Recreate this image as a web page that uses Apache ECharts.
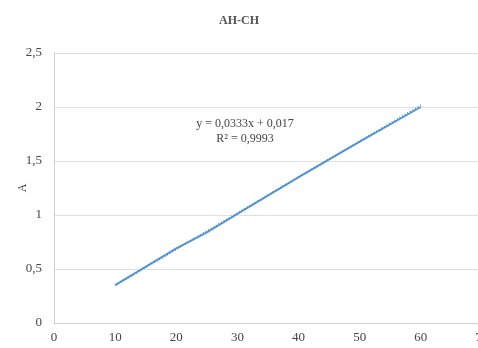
<!DOCTYPE html>
<html>
<head>
<meta charset="utf-8">
<script src="https://cdn.jsdelivr.net/npm/echarts@6/dist/echarts.min.js"></script>
<style>
  html, body { margin: 0; padding: 0; background: #fff; }
  #chart { width: 478px; height: 348px; }
</style>
</head>
<body>
<div id="chart"></div>
<script>
// Calibration data: concentration vs absorbance
const concentrations = [10, 20, 25, 30, 40, 50, 60];
const absorbance = [0.35, 0.69, 0.84, 1.01, 1.35, 1.68, 2.0];

// Linear fit as reported on the chart
const slope = 0.0333;
const intercept = 0.017;
const rSquared = '0,9993';

const xTicks = [0, 10, 20, 30, 40, 50, 60, 70];
const yTicks = [0, 0.5, 1, 1.5, 2, 2.5];

const fitX = [10, 60];
const fitLine = fitX.map(x => [x, slope * x + intercept]);
const measured = concentrations.map((c, i) => [c, absorbance[i]]);

const fmt = v => String(v).replace('.', ',');
const serif = '"Liberation Serif", "DejaVu Serif", serif';

const chart = echarts.init(document.getElementById('chart'));
chart.setOption({
  animation: false,
  title: {
    text: 'AH-CH',
    left: 'center',
    top: 10,
    textStyle: { fontFamily: serif, fontSize: 12, fontWeight: 'bold', color: '#555' }
  },
  grid: { left: 54, right: -4, top: 53, bottom: 25, outerBoundsMode: 'none', containLabel: false },
  xAxis: {
    type: 'value',
    min: 0, max: 70, interval: 10,
    axisLine: { show: true, lineStyle: { color: '#d0d0d0' } },
    axisTick: { show: false },
    splitLine: { show: false },
    axisLabel: { fontFamily: serif, fontSize: 13, color: '#444', margin: 8,
      formatter: v => xTicks.includes(v) ? fmt(v) : '' }
  },
  yAxis: {
    type: 'value',
    min: 0, max: 2.5, interval: 0.5,
    name: 'A',
    nameLocation: 'middle',
    nameGap: 25,
    nameMoveOverlap: false,
    nameRotate: 90,
    nameTextStyle: { fontFamily: serif, fontSize: 12, color: '#444' },
    axisLine: { show: true, lineStyle: { color: '#d0d0d0' } },
    axisTick: { show: false },
    splitLine: { lineStyle: { color: '#e0e0e0', width: 1 } },
    axisLabel: { fontFamily: serif, fontSize: 13, color: '#444', margin: 12,
      formatter: v => yTicks.includes(v) ? fmt(v) : '' }
  },
  graphic: [{
    type: 'text',
    x: 245,
    y: 116,
    style: {
      text: 'y = ' + fmt(slope) + 'x + ' + fmt(intercept) + '\nR² = ' + rSquared,
      font: '12px ' + serif,
      fill: '#444',
      align: 'center',
      lineHeight: 15
    }
  }],
  series: [
    {
      type: 'line',
      data: measured,
      showSymbol: false,
      lineStyle: { color: '#5b9bd5', width: 2 }
    },
    {
      type: 'line',
      data: fitLine,
      showSymbol: false,
      lineStyle: { color: '#4a86c5', width: 2, type: [1, 2] }
    }
  ]
});
</script>
</body>
</html>
